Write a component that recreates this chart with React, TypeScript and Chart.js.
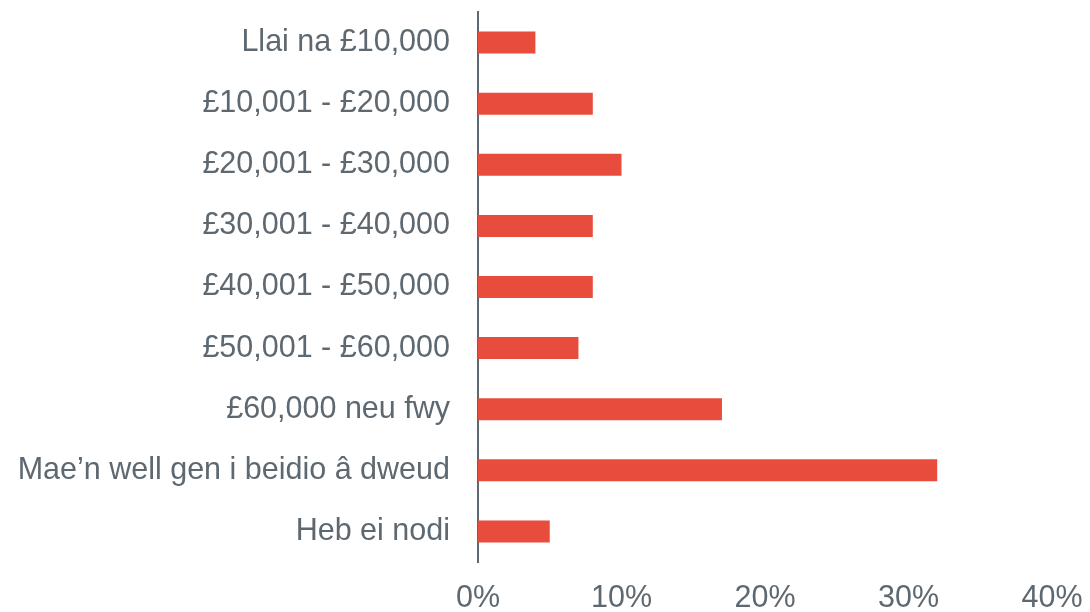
import React, { useEffect, useRef } from "react";
import { Chart, registerables } from "chart.js";

Chart.register(...registerables);

const categories = [
  "Llai na £10,000",
  "£10,001 - £20,000",
  "£20,001 - £30,000",
  "£30,001 - £40,000",
  "£40,001 - £50,000",
  "£50,001 - £60,000",
  "£60,000 neu fwy",
  "Mae’n well gen i beidio â dweud",
  "Heb ei nodi",
];
const values = [4, 8, 10, 8, 8, 7, 17, 32, 5];
const xTicks = [0, 10, 20, 30, 40];

export default function App() {
  const ref = useRef<HTMLCanvasElement | null>(null);
  useEffect(() => {
    document.body.style.margin = "0";
    const ctx = ref.current!;
    const chart = new Chart(ctx, {
      type: "bar",
      data: {
        labels: categories,
        datasets: [
          {
            data: values,
            backgroundColor: "#E84C3D",
            borderWidth: 0,
            categoryPercentage: 1,
            barPercentage: 0.36,
          },
        ],
      },
      options: {
        indexAxis: "y",
        animation: false,
        responsive: false,
        maintainAspectRatio: false,
        layout: { padding: { left: 0, right: 38, top: 12, bottom: 0 } },
        plugins: { legend: { display: false }, tooltip: { enabled: false } },
        scales: {
          x: {
            min: 0,
            max: 40,
            afterBuildTicks: (axis: any) => {
              axis.ticks = xTicks.map((v) => ({ value: v }));
            },
            afterFit: (axis: any) => {
              axis.height = 50;
              axis.paddingLeft = 0;
              axis.paddingRight = 0;
            },
            grid: { display: false, drawTicks: false },
            border: { display: false },
            ticks: {
              padding: 18,
              color: "#5E6870",
              font: { family: "Liberation Sans, Arial, sans-serif", size: 30.5 },
              callback: (v: any) => v + "%",
              maxRotation: 0,
            },
          },
          y: {
            afterFit: (axis: any) => {
              axis.width = 478;
              axis.paddingTop = 0;
              axis.paddingBottom = 0;
            },
            grid: { display: false, drawTicks: false },
            border: { display: true, color: "#5E6870", width: 2 },
            ticks: {
              padding: 28,
              color: "#5E6870",
              font: { family: "Liberation Sans, Arial, sans-serif", size: 30.5 },
              autoSkip: false,
            },
          },
        },
      },
    });
    return () => chart.destroy();
  }, []);
  return (
    <div style={{ width: 1090, height: 612 }}>
      <canvas ref={ref} width={1090} height={612} style={{ display: "block" }} />
    </div>
  );
}
